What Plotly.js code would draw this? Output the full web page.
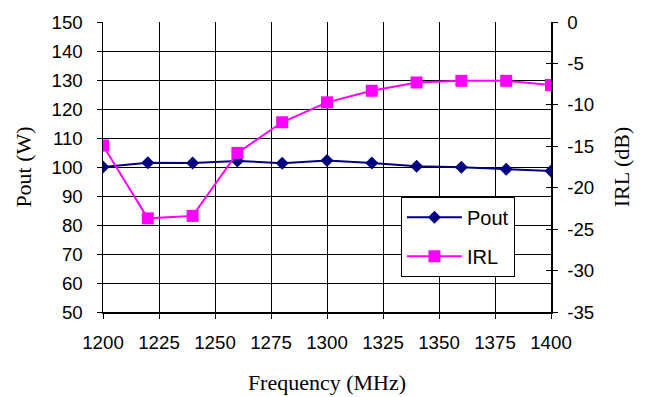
<!DOCTYPE html>
<html>
<head>
<meta charset="utf-8">
<script src="https://cdn.plot.ly/plotly-3.0.1.min.js"></script>
<style>
html,body{margin:0;padding:0;background:#fff;}
#chart{width:648px;height:397px;}
</style>
</head>
<body>
<div id="chart"></div>
<script>
const freq = [1200, 1220, 1240, 1260, 1280, 1300, 1320, 1340, 1360, 1380, 1400];
const pout = [100.0, 101.5, 101.4, 102.1, 101.3, 102.2, 101.4, 100.3, 99.9, 99.2, 98.6];
const irl = [-14.9, -23.7, -23.4, -15.8, -12.1, -9.7, -8.3, -7.3, -7.1, -7.1, -7.6];
const xTicks = [1200, 1225, 1250, 1275, 1300, 1325, 1350, 1375, 1400];
const yTicks = [50, 60, 70, 80, 90, 100, 110, 120, 130, 140, 150];
const y2Ticks = [-35, -30, -25, -20, -15, -10, -5, 0];
const y2Labels = ["-35", "-30", "-25", "-20", "-15", "-10", "-5", "0"];

const tickFont = {family: "Liberation Sans, Arial, sans-serif", size: 18.7, color: "#000"};
const titleFont = {family: "Liberation Serif, Times New Roman, serif", size: 22, color: "#000"};

const traces = [
  {x: freq, y: pout, name: "Pout", type: "scatter", mode: "lines+markers",
   line: {color: "#000080", width: 2}, marker: {symbol: "diamond", size: 10, color: "#000080"},
   legendgroup: "a", yaxis: "y"},
  {x: freq, y: irl, name: "IRL", type: "scatter", mode: "lines+markers",
   line: {color: "#FF00FF", width: 2}, marker: {symbol: "square", size: 12, color: "#FF00FF"},
   legendgroup: "b", yaxis: "y2"}
];

const layout = {
  width: 648, height: 397,
  margin: {l: 103, r: 97, t: 22, b: 85},
  paper_bgcolor: "#fff", plot_bgcolor: "#fff",
  showlegend: true,
  legend: {x: 0.665, y: 0.397, xanchor: "left", yanchor: "top",
           bgcolor: "#fff", bordercolor: "#000", borderwidth: 1,
           font: {family: "Liberation Sans, Arial, sans-serif", size: 20, color: "#000"},
           traceorder: "grouped", tracegroupgap: 10, itemwidth: 55},
  xaxis: {range: [1200, 1400], tickvals: xTicks, ticktext: xTicks.map(String),
          showgrid: true, gridcolor: "#000", gridwidth: 1,
          showline: true, linecolor: "#000", linewidth: 1.5,
          ticks: "outside", ticklen: 5, tickcolor: "#000", tickfont: tickFont,
          ticklabelstandoff: 8,
          zeroline: false, fixedrange: true,
          title: {text: "Frequency (MHz)", font: titleFont, standoff: 22}},
  yaxis: {range: [50, 150], tickvals: yTicks, ticktext: yTicks.map(String),
          showgrid: true, gridcolor: "#000", gridwidth: 1,
          showline: true, linecolor: "#000", linewidth: 1.5,
          ticks: "outside", ticklen: 5, tickcolor: "#000", tickfont: tickFont,
          ticklabelstandoff: 10,
          zeroline: false,
          title: {text: "Pout (W)", font: titleFont, standoff: 14}},
  yaxis2: {range: [-35, 0], tickvals: y2Ticks, ticktext: y2Labels,
           overlaying: "y", side: "right", showgrid: false,
           showline: true, linecolor: "#000", linewidth: 1.5,
           ticks: "outside", ticklen: 5, tickcolor: "#000", tickfont: tickFont,
           ticklabelstandoff: 6,
           zeroline: false,
           title: {text: "IRL (dB)", font: titleFont, standoff: 20}},
  yaxis3: {range: [-35, 0], tickvals: y2Ticks, overlaying: "y", side: "right",
           showgrid: false, showline: false, showticklabels: false,
           ticks: "inside", ticklen: 5, tickcolor: "#000", zeroline: false}
};

traces.push({x: [1200], y: [-100], yaxis: "y3", showlegend: false, hoverinfo: "skip",
             mode: "markers", marker: {opacity: 0}});

Plotly.newPlot("chart", traces, layout, {staticPlot: true});
</script>
</body>
</html>
